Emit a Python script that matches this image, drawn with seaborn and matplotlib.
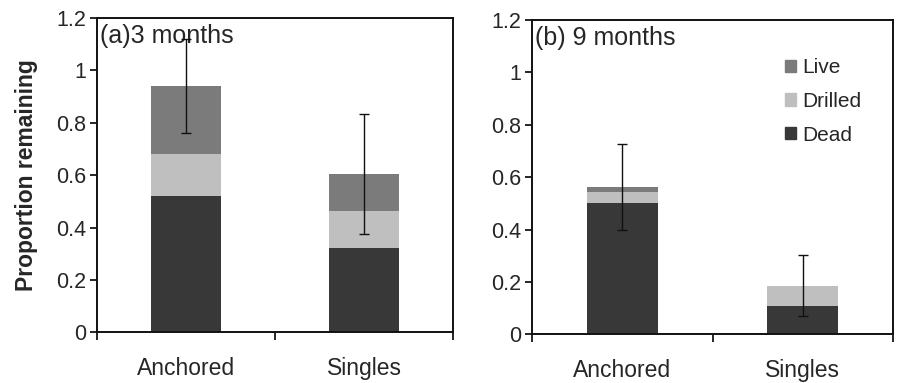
import matplotlib
matplotlib.use("Agg")
import matplotlib.pyplot as plt
import seaborn as sns
import pandas as pd
import numpy as np
from matplotlib.patches import Patch

sns.set_style("white")
plt.rcParams['font.family'] = ['Liberation Sans', 'DejaVu Sans']

categories = ["Anchored", "Singles"]
# Panel (a) 3 months
dead_a = [0.52, 0.32]
drilled_a = [0.16, 0.145]
live_a = [0.26, 0.14]
err_a = [0.18, 0.23]
# Panel (b) 9 months
dead_b = [0.50, 0.108]
drilled_b = [0.042, 0.076]
live_b = [0.02, 0.002]
err_b = [0.165, 0.115]

titles = ["(a)3 months", "(b) 9 months"]
yticks = [0, 0.2, 0.4, 0.6, 0.8, 1.0, 1.2]
ytick_labels = ["0", "0.2", "0.4", "0.6", "0.8", "1", "1.2"]

c_dead = "#383838"
c_drilled = "#bfbfbf"
c_live = "#7b7b7b"

fig = plt.figure(figsize=(8.98, 3.83), dpi=100)
ax_a = fig.add_axes([0.108, 0.1324, 0.3965, 0.8206])
ax_b = fig.add_axes([0.5928, 0.1272, 0.4013, 0.8206])

panels = [
    (ax_a, dead_a, drilled_a, live_a, err_a, titles[0]),
    (ax_b, dead_b, drilled_b, live_b, err_b, titles[1]),
]

for ax, dead, drilled, live, err, title in panels:
    dead = np.array(dead); drilled = np.array(drilled); live = np.array(live)
    total = dead + drilled + live
    df = pd.DataFrame({
        "cat": categories,
        "total": total,
        "dd": dead + drilled,
        "dead": dead,
    })
    sns.barplot(data=df, x="cat", y="total", order=categories, color=c_live,
                width=0.39, errorbar=None, ax=ax, saturation=1, linewidth=0)
    sns.barplot(data=df, x="cat", y="dd", order=categories, color=c_drilled,
                width=0.39, errorbar=None, ax=ax, saturation=1, linewidth=0)
    sns.barplot(data=df, x="cat", y="dead", order=categories, color=c_dead,
                width=0.39, errorbar=None, ax=ax, saturation=1, linewidth=0)
    ax.errorbar(x=np.arange(len(categories)), y=total, yerr=err, fmt="none",
                ecolor="#111111", elinewidth=1.0, capsize=3.5, capthick=1.0, zorder=5)
    ax.set_xlim(-0.5, 1.5)
    ax.set_ylim(0, 1.2)
    ax.set_yticks(yticks)
    ax.set_yticklabels(ytick_labels, fontsize=15.5)
    ax.set_xticks([0, 1])
    ax.set_xticklabels(categories, fontsize=16.5)
    ax.set_xticks([-0.5, 0.5, 1.5], minor=True)
    ax.tick_params(axis="x", which="major", length=0, pad=17.5)
    ax.tick_params(axis="x", which="minor", length=6, width=1.4, direction="out", bottom=True)
    ax.tick_params(axis="y", which="major", length=5, width=1.4, direction="out", left=True, pad=3)
    ax.set_xlabel("")
    ax.set_ylabel("")
    for s in ax.spines.values():
        s.set_linewidth(1.4)
        s.set_color("#111111")
    ax.text(0.008, 0.943, title, transform=ax.transAxes, fontsize=18, va="center", ha="left")

ax_a.set_ylabel("Proportion remaining", fontsize=16.5, fontweight="bold")
ax_a.yaxis.set_label_coords(-0.165, 0.5)

handles = [Patch(color=c_live, label="Live"),
           Patch(color=c_drilled, label="Drilled"),
           Patch(color=c_dead, label="Dead")]
ax_b.legend(handles=handles, loc="upper left", bbox_to_anchor=(0.70, 0.878),
            frameon=False, fontsize=15, handlelength=0.55, handleheight=0.55,
            handletextpad=0.3, labelspacing=0.7, borderpad=0, borderaxespad=0)

fig.savefig("out.png", dpi=100)
